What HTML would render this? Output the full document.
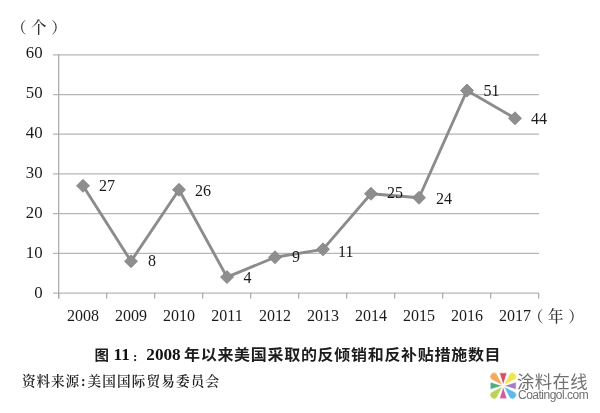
<!DOCTYPE html>
<html><head><meta charset="utf-8"><style>
html,body{margin:0;padding:0;background:#fff;}
body{width:600px;height:413px;overflow:hidden;position:relative;}
svg{position:absolute;left:0;top:0;}
.t{position:absolute;white-space:nowrap;line-height:1;}
.ch{font-family:"Liberation Sans","Noto Sans CJK SC",sans-serif;font-weight:bold;font-size:16px;color:#1c1c1c;letter-spacing:0.7px;transform:scaleY(0.94);transform-origin:0 0;}
.ln{font-family:"Liberation Serif",serif;font-weight:bold;font-size:17.2px;color:#111;}
.src{left:22px;top:369.7px;font:600 13.6px "Liberation Serif","Noto Serif CJK SC",serif;color:#1e1e1e;letter-spacing:0.9px;}
.src .co{margin-left:1px;margin-right:1.2px;}
.src .b{letter-spacing:1.15px;}
.unit{left:11px;top:15.3px;font:500 15.5px "Liberation Serif","Noto Serif CJK SC",serif;color:#333;letter-spacing:4.6px;}
.yr{left:528px;top:303.8px;font:500 15.5px "Liberation Serif","Noto Serif CJK SC",serif;color:#333;letter-spacing:4.6px;}
.lg1{left:517px;top:368px;font:400 17.3px "Liberation Sans","Noto Sans CJK SC",sans-serif;color:#707070;letter-spacing:0.45px;}
.lg2{left:518px;top:388px;font:12px "Liberation Sans",sans-serif;color:#707070;letter-spacing:-0.5px;}
</style></head><body>
<svg width="600" height="413" viewBox="0 0 600 413">
<g stroke="#b6b6b6" stroke-width="1.25" fill="none"><line x1="53" y1="293.00" x2="539" y2="293.00"/><line x1="53" y1="253.30" x2="539" y2="253.30"/><line x1="53" y1="213.60" x2="539" y2="213.60"/><line x1="53" y1="173.90" x2="539" y2="173.90"/><line x1="53" y1="134.20" x2="539" y2="134.20"/><line x1="53" y1="94.50" x2="539" y2="94.50"/><line x1="53" y1="54.80" x2="539" y2="54.80"/></g>
<g stroke="#a8a8a8" stroke-width="1.2" fill="none"><line x1="58.7" y1="54" x2="58.7" y2="298.5"/><line x1="58.7" y1="293" x2="58.7" y2="298.5"/><line x1="106.7" y1="293" x2="106.7" y2="298.5"/><line x1="154.7" y1="293" x2="154.7" y2="298.5"/><line x1="202.7" y1="293" x2="202.7" y2="298.5"/><line x1="250.7" y1="293" x2="250.7" y2="298.5"/><line x1="298.7" y1="293" x2="298.7" y2="298.5"/><line x1="346.7" y1="293" x2="346.7" y2="298.5"/><line x1="394.7" y1="293" x2="394.7" y2="298.5"/><line x1="442.7" y1="293" x2="442.7" y2="298.5"/><line x1="490.7" y1="293" x2="490.7" y2="298.5"/><line x1="538.7" y1="293" x2="538.7" y2="298.5"/></g>
<polyline points="83,185.81 131,261.24 179,189.78 227,277.12 275,257.27 323,249.33 371,193.75 419,197.72 467,90.53 515,118.32" fill="none" stroke="#8c8c8c" stroke-width="2.9" stroke-linejoin="round"/>
<g fill="#8e8e8e" stroke="#828282" stroke-width="0.8"><path d="M83 179.31L89.5 185.81L83 192.31L76.5 185.81Z"/><path d="M131 254.74L137.5 261.24L131 267.74L124.5 261.24Z"/><path d="M179 183.28L185.5 189.78L179 196.28L172.5 189.78Z"/><path d="M227 270.62L233.5 277.12L227 283.62L220.5 277.12Z"/><path d="M275 250.77L281.5 257.27L275 263.77L268.5 257.27Z"/><path d="M323 242.83L329.5 249.33L323 255.83L316.5 249.33Z"/><path d="M371 187.25L377.5 193.75L371 200.25L364.5 193.75Z"/><path d="M419 191.22L425.5 197.72L419 204.22L412.5 197.72Z"/><path d="M467 84.03L473.5 90.53L467 97.03L460.5 90.53Z"/><path d="M515 111.82L521.5 118.32L515 124.82L508.5 118.32Z"/></g>
<g font-family="Liberation Serif, serif" font-size="16" fill="#1a1a1a"><text x="42.6" y="297.85" text-anchor="end" font-size="16.8">0</text><text x="42.6" y="257.85" text-anchor="end" font-size="16.8">10</text><text x="42.6" y="217.85" text-anchor="end" font-size="16.8">20</text><text x="42.6" y="177.85" text-anchor="end" font-size="16.8">30</text><text x="42.6" y="137.85" text-anchor="end" font-size="16.8">40</text><text x="42.6" y="97.85" text-anchor="end" font-size="16.8">50</text><text x="42.6" y="57.85" text-anchor="end" font-size="16.8">60</text><text x="83" y="321" text-anchor="middle">2008</text><text x="131" y="321" text-anchor="middle">2009</text><text x="179" y="321" text-anchor="middle">2010</text><text x="227" y="321" text-anchor="middle">2011</text><text x="275" y="321" text-anchor="middle">2012</text><text x="323" y="321" text-anchor="middle">2013</text><text x="371" y="321" text-anchor="middle">2014</text><text x="419" y="321" text-anchor="middle">2015</text><text x="467" y="321" text-anchor="middle">2016</text><text x="515" y="321" text-anchor="middle">2017</text><text x="99" y="190.90">27</text><text x="148" y="266.40">8</text><text x="195" y="195.90">26</text><text x="243.5" y="283.40">4</text><text x="292" y="262.40">9</text><text x="338" y="257.40">11</text><text x="387" y="197.90">25</text><text x="436" y="203.70">24</text><text x="483.5" y="96.40">51</text><text x="531" y="123.90">44</text></g>
<g transform="translate(503.2,385.8)" stroke="#fff" stroke-width="0.7"><path d="M0.00 -0.60L-3.80 -13.00L3.80 -13.00Z" fill="#d8505f"/><path d="M0.60 0.00L13.00 -3.80L13.00 3.80Z" fill="#a57bc8"/><path d="M0.00 0.60L3.80 13.00L-3.80 13.00Z" fill="#d656a0"/><path d="M-0.60 0.00L-13.00 3.80L-13.00 -3.80Z" fill="#4fae80"/><path d="M-0.42 -0.42L-12.02 -6.36A4.0 4.0 0 0 1 -6.36 -12.02Z" fill="#f4a860"/><path d="M0.42 -0.42L6.36 -12.02A4.0 4.0 0 0 1 12.02 -6.36Z" fill="#f2e552"/><path d="M0.42 0.42L12.02 6.36A4.0 4.0 0 0 1 6.36 12.02Z" fill="#5cbaea"/><path d="M-0.42 0.42L-6.36 12.02A4.0 4.0 0 0 1 -12.02 6.36Z" fill="#bcd255"/></g>
</svg>
<div class="t unit">（个）</div>
<div class="t yr">（年）</div>
<div class="t ch" style="left:94.5px;top:348.5px;font-size:14.5px;letter-spacing:0;transform:scaleY(0.92)">图</div>
<div class="t ln" style="left:113.5px;top:346px">11</div>
<div class="t ln" style="left:133px;top:350px;font-size:13px">:</div>
<div class="t ln" style="left:146.3px;top:346px">2008</div>
<div class="t ch" style="left:184px;top:348px">年以来美国采取的反倾销和反补贴措施数目</div>
<div class="t src">资料来源<span class="co">:</span><span class="b">美国国际贸易委员会</span></div>
<div class="t lg1">涂料在线</div>
<div class="t lg2">Coatingol.com</div>
</body></html>
